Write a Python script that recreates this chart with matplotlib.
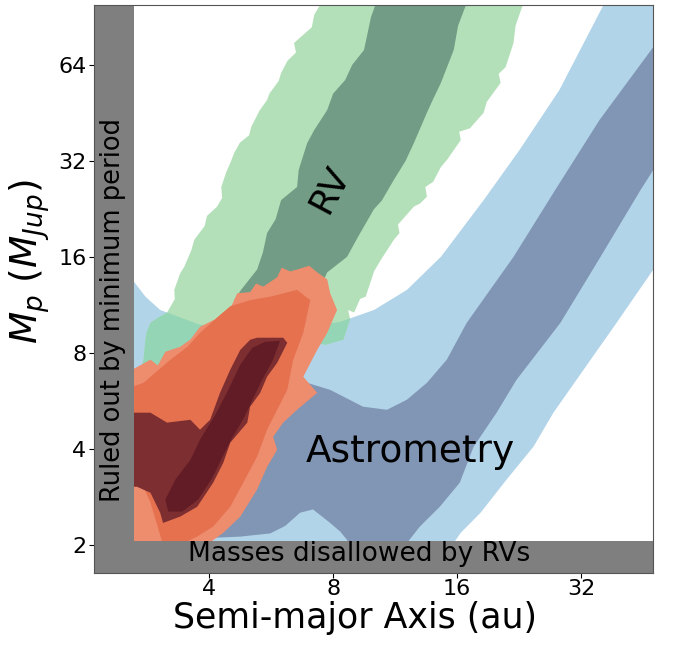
import matplotlib
matplotlib.use("Agg")
from matplotlib import pyplot as plt
from matplotlib.ticker import FixedLocator, NullLocator, FuncFormatter

# contour outlines: semi-major axis (au), mass (M_Jup)
# astrometry, outer level
astro_out_a = [2.6, 2.80, 3.04, 3.80, 5.03, 6.65, 8.32, 10.06, 12.09, 14.62, 18.57,
               22.69, 28.37, 36.5, 48, 48, 39.06, 31.22, 27.44, 24.54, 21.11,
               18.26, 16.34, 15.6, 2.6]
astro_out_m = [13.6, 12.0, 10.9, 9.79, 9.44, 9.58, 10.0, 10.9, 12.6, 16.0, 24.1,
               34.6, 53.4, 100, 100, 14.6, 9.93, 6.58, 5.19, 4.06, 3.20,
               2.52, 2.18, 2.0, 2.0]
# astrometry, inner level
astro_in_a = [2.6, 5.63, 6.92, 7.87, 9.46, 10.81, 12.09, 13.52, 15.11, 16.89, 21.95,
              27.75, 35.51, 48, 48, 44.73, 35.71, 28.53, 22.32, 19.97, 17.56,
              16.25, 14.53, 13.00, 12.0, 8.80, 8.65, 8.32, 7.87, 7.15, 6.65,
              6.12, 5.63, 4.76, 4.02, 2.6]
astro_in_m = [4.93, 6.4, 6.44, 6.12, 5.42, 5.30, 5.70, 6.44, 7.61, 9.93, 16.0,
              26.0, 43.0, 72.9, 30.0, 26.0, 16.0, 9.93, 6.58, 5.19, 4.06,
              3.13, 2.63, 2.28, 2.0, 2.0, 2.07, 2.20, 2.34, 2.58, 2.52,
              2.29, 2.17, 2.12, 2.10, 2.10]
# RV, outer level (ragged edges)
rv_out_a = [7.48, 7.2, 7.1, 6.8, 6.43, 6.5, 6.2, 5.98, 5.9, 5.6, 5.53, 5.3, 5.06,
            5.0, 4.75, 4.60, 4.5, 4.40, 4.28, 4.3, 4.18, 3.95, 3.9, 3.68, 3.62,
            3.48, 3.4, 3.29, 3.3, 3.16, 3.0, 2.88, 2.82, 2.80, 2.77, 2.72, 2.6,
            2.6, 4.5, 6.5, 7.65, 8.47, 8.80, 8.7, 9.00, 9.3, 9.6, 10.06, 10.4,
            11.24, 11.6, 11.5, 12.57, 13.0, 13.52, 13.4, 14.0, 14.62, 15.2, 16.34,
            16.2, 17.2, 18.57, 18.9, 20.42, 20.2, 21.0, 21.95, 22.2, 23.20]
rv_out_m = [100, 92, 84, 80, 75.0, 70, 66, 60.4, 57, 52, 49.7, 46, 40.9,
            38.5, 36.5, 33.9, 31.5, 29.5, 26.5, 24.5, 23.0, 21.5, 20, 18.1, 16.8,
            14.9, 14.2, 12.6, 11.8, 10.7, 10.3, 9.93, 9.3, 8.79, 7.61, 6.95, 6.8,
            6.5, 7.5, 9.0, 8.47, 8.79, 10.2, 10.9, 10.7, 11.8, 12.0, 14.4, 15.5,
            18.1, 19.0, 20.2, 23.0, 23.5, 24.7, 26.5, 27.5, 30.6, 32.5, 37.2,
            39.5, 40.5, 45.3, 49, 56.2, 60, 63, 75.0, 85, 100]
# RV, inner level
rv_in_a = [10.17, 9.89, 9.51, 8.9, 8.56, 8.0, 7.74, 7.2, 6.92, 6.6, 6.54, 5.98, 5.8,
           5.53, 5.4, 5.23, 4.78, 4.60, 5.03, 7.04, 7.74, 8.65, 9.2, 10.06, 10.5,
           11.24, 12.0, 12.57, 13.52, 14.0, 14.62, 15.71, 16.1, 16.89]
rv_in_m = [100, 90.5, 71.3, 64, 57.4, 52, 46.2, 40, 36.4, 30, 26.5, 24.1, 21,
           19.0, 16.5, 14.6, 12.6, 11.7, 10.2, 10.9, 14.3, 16.0, 18.5, 22.6, 24,
           27.9, 32, 36.4, 45.3, 50, 56.2, 71.3, 85, 100]
# combined, four levels from outer to core
comb_1_a = [2.6, 2.88, 3.0, 3.13, 3.40, 3.6, 3.80, 4.14, 4.33, 4.5, 4.68, 5.03, 5.2,
            5.41, 5.85, 6.0, 6.29, 6.54, 7.0, 7.32, 7.74, 7.87, 8.18, 7.74, 7.32,
            6.77, 7.32, 6.54, 6.05, 5.72, 5.85, 5.53, 5.23, 4.76, 4.33, 3.95, 2.6]
comb_1_m = [7.08, 7.61, 7.3, 8.06, 8.35, 8.8, 9.65, 10.2, 10.7, 11.0, 12.3, 12.4, 13.2,
            12.9, 13.8, 14.8, 14.4, 14.6, 15.0, 14.3, 13.6, 12.3, 10.9, 9.24, 8.17,
            6.73, 5.99, 5.30, 4.83, 4.36, 3.97, 3.51, 2.98, 2.45, 2.18, 2.0, 2.0]
comb_2_a = [3.80, 4.14, 4.50, 5.03, 5.63, 6.54, 7.04, 6.77, 6.40, 6.19, 5.85, 5.53,
            5.23, 4.84, 4.50, 4.09, 3.74, 3.40, 3.09, 2.88, 2.72, 2.6, 2.6, 2.77,
            3.22, 3.54]
comb_2_m = [9.24, 10.2, 11.2, 11.7, 12.0, 12.6, 11.7, 9.24, 7.61, 6.12, 5.30, 4.59,
            3.78, 3.13, 2.63, 2.28, 2.12, 2.0, 2.0, 2.71, 3.20, 3.44, 6.26, 6.44,
            7.61, 8.35]
comb_3_a = [5.23, 6.05, 6.19, 5.85, 5.53, 5.32, 5.03, 4.95, 4.50, 4.33, 4.09, 3.74,
            3.40, 3.09, 3.04, 2.88, 2.67, 2.6, 2.6, 2.88, 3.16, 3.60, 3.80, 4.02,
            4.25, 4.50, 4.76, 5.03]
comb_3_m = [8.92, 8.92, 8.60, 7.44, 6.73, 5.99, 5.42, 4.83, 4.18, 3.62, 3.13, 2.63,
            2.45, 2.34, 2.52, 2.91, 3.04, 3.04, 5.19, 5.19, 4.83, 4.93, 4.59, 4.93,
            5.99, 7.08, 8.17, 8.79]
comb_4_a = [5.47, 5.95, 5.69, 5.38, 5.12, 4.86, 4.55, 4.30, 4.07, 3.76, 3.44, 3.18,
            3.13, 3.31, 3.60, 3.80, 4.14, 4.45, 4.76, 5.09]
comb_4_m = [8.66, 8.72, 7.50, 6.58, 5.78, 5.00, 4.33, 3.75, 3.24, 2.77, 2.54, 2.54,
            2.77, 3.20, 3.69, 4.27, 5.11, 6.12, 7.34, 8.29]

min_period_a = 2.62   # au, left grey band
rv_min_mass = 2.06    # M_Jup, bottom grey band

x_ticks = [4, 8, 16, 32]
y_ticks = [2, 4, 8, 16, 32, 64]

fig = plt.figure(figsize=(6.73, 6.46), dpi=100)
ax = fig.add_axes([0.1397, 0.1130, 0.8306, 0.8793])
ax.set_xscale("log", base=2)
ax.set_yscale("log", base=2)

ax.fill(astro_out_a, astro_out_m, color="#b2d4e9", lw=0, zorder=1)
ax.fill(astro_in_a, astro_in_m, color="#8196b4", lw=0, zorder=2)
g, = ax.fill(rv_out_a, rv_out_m, color="#b4e0b9", lw=0, zorder=3)
# light green over light blue looks mint
mint, = ax.fill(astro_out_a, astro_out_m, color="#93d5b5", lw=0, zorder=3.5)
mint.set_clip_path(g)
ax.fill(rv_in_a, rv_in_m, color="#729c85", lw=0, zorder=4)
ax.fill(comb_1_a, comb_1_m, color="#ee8c6e", lw=0, zorder=5)
ax.fill(comb_2_a, comb_2_m, color="#e6714f", lw=0, zorder=6)
ax.fill(comb_3_a, comb_3_m, color="#7d2e30", lw=0, zorder=7)
ax.fill(comb_4_a, comb_4_m, color="#621c25", lw=0, zorder=8)

ax.axvspan(1.5, min_period_a, color="#7f7f7f", lw=0, zorder=9)
ax.axhspan(1.0, rv_min_mass, color="#7f7f7f", lw=0, zorder=9)

ax.text(0.034, 0.463, "Ruled out by minimum period", transform=ax.transAxes,
        rotation=90, ha="center", va="center", fontsize=18.5, zorder=10)
ax.text(0.474, 0.033, "Masses disallowed by RVs", transform=ax.transAxes,
        ha="center", va="center", fontsize=19, zorder=10)
ax.text(7.87, 26.0, "RV", rotation=62, ha="center", va="center", fontsize=26, zorder=10)
ax.text(12.3, 3.9, "Astrometry", ha="center", va="center", fontsize=27, zorder=10)

ax.set_xlim(2.10, 47.9)
ax.set_ylim(1.63, 98.7)
ax.xaxis.set_major_locator(FixedLocator(x_ticks))
ax.yaxis.set_major_locator(FixedLocator(y_ticks))
ax.xaxis.set_minor_locator(NullLocator())
ax.yaxis.set_minor_locator(NullLocator())
fmt = FuncFormatter(lambda v, p: "%d" % v)
ax.xaxis.set_major_formatter(fmt)
ax.yaxis.set_major_formatter(fmt)
ax.tick_params(labelsize=16)
ax.tick_params(axis="x", pad=1)
ax.tick_params(axis="y", pad=2)
for s in ax.spines.values():
    s.set_color("#555555")
    s.set_linewidth(0.8)
    s.set_zorder(11)

ax.set_xlabel("Semi-major Axis (au)", fontsize=25)
ax.xaxis.set_label_coords(0.467, -0.050)
ax.set_ylabel("$M_p$ ($M_{Jup}$)", fontsize=27)
ax.yaxis.set_label_coords(-0.076, 0.548)

fig.savefig("out.png", dpi=100)
